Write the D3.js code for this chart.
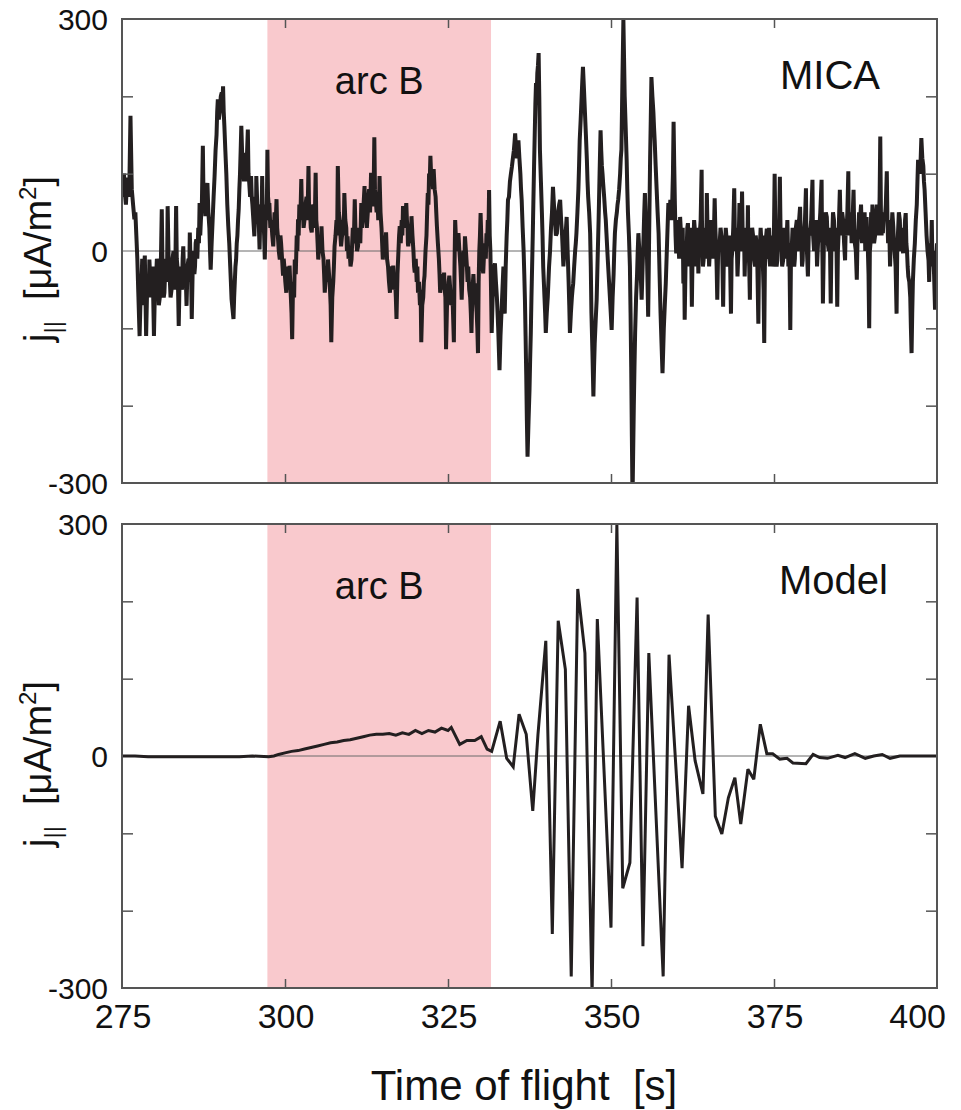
<!DOCTYPE html>
<html><head><meta charset="utf-8">
<script src="https://cdn.jsdelivr.net/npm/d3@7"></script>
<style>body{margin:0;background:#fff}svg{display:block}text{font-family:"Liberation Sans",Arial,sans-serif;fill:#111}</style>
</head><body>
<svg id="chart" width="961" height="1110"></svg>
<script>
// ---- data ----
const xDomain = [275, 400];
const yDomain = [-300, 300];
const xTickLabels = [275, 300, 325, 350, 375, 400];
const xMinorTicks = [300, 325, 350, 375];
const yTickLabels = [-300, 0, 300];
const yMinorTicks = [-200, -100, 100, 200];
const arcB = [297.3, 331.6];
const panelNames = ["MICA", "Model"];

// MICA measured j|| [time s, uA/m2]
const micaSeries = [
[275.0,90],[275.15,70],[275.3,100],[275.45,75],[275.6,60],[275.75,85],[275.9,95],[276.1,70],[276.3,175],[276.5,80],[276.7,60],[276.9,41],[277.05,50],[277.2,20],[277.35,-10],[277.5,-54],[277.7,-110],[277.85,-60],[278.0,-40],[278.1,-10],[278.2,-70],[278.35,-30],[278.5,-6],[278.7,-110],[278.85,-50],[279.0,-30],[279.1,-60],[279.2,-11],[279.35,-40],[279.5,-60],[279.7,-20],[279.9,-110],[280.05,-50],[280.2,-40],[280.35,-10],[280.5,-28],[280.65,-70],[280.8,-60],[280.95,-20],[281.1,54],[281.2,-10],[281.3,-20],[281.4,-60],[281.5,-54],[281.65,-20],[281.8,-10],[281.9,-40],[282.0,58],[282.15,-10],[282.3,-30],[282.45,-60],[282.6,-50],[282.75,-10],[282.9,0],[283.0,-50],[283.1,-40],[283.2,-10],[283.3,58],[283.4,-10],[283.5,-20],[283.6,-50],[283.7,-97],[283.85,-30],[284.0,-20],[284.1,-45],[284.2,-50],[284.3,-10],[284.4,6],[284.55,-40],[284.7,-20],[284.8,-40],[284.9,-71],[285.05,-20],[285.2,-10],[285.3,-40],[285.4,24],[285.5,-10],[285.6,-30],[285.7,-88],[285.85,-20],[286.0,0],[286.1,-30],[286.2,-20],[286.3,10],[286.4,15],[286.55,-10],[286.7,30],[286.8,10],[286.9,62],[287.0,20],[287.1,40],[287.25,60],[287.4,136],[287.5,70],[287.6,50],[287.7,80],[287.8,45],[287.95,70],[288.1,88],[288.25,50],[288.4,30],[288.5,0],[288.6,-24],[288.75,10],[288.9,40],[289.05,70],[289.2,97],[289.35,130],[289.5,150],[289.6,180],[289.7,196],[289.85,170],[290.0,180],[290.15,200],[290.3,205],[290.4,190],[290.5,213],[290.6,180],[290.7,162],[290.85,130],[291.0,100],[291.15,60],[291.3,32],[291.45,10],[291.6,-20],[291.7,-40],[291.8,-62],[291.95,-75],[292.1,-88],[292.2,-60],[292.3,-40],[292.4,-20],[292.5,-11],[292.6,10],[292.7,20],[292.8,40],[292.9,54],[293.0,80],[293.1,100],[293.2,130],[293.3,162],[293.45,120],[293.6,110],[293.7,90],[293.8,127],[293.9,90],[294.0,100],[294.15,120],[294.3,157],[294.4,100],[294.5,90],[294.65,70],[294.8,97],[294.9,70],[295.0,60],[295.15,40],[295.3,19],[295.4,50],[295.5,70],[295.55,40],[295.6,97],[295.75,60],[295.9,50],[296.0,30],[296.1,2],[296.2,40],[296.3,60],[296.4,40],[296.5,97],[296.6,50],[296.7,40],[296.8,20],[296.9,-11],[297.0,30],[297.1,60],[297.2,40],[297.3,131],[297.4,70],[297.5,60],[297.55,40],[297.6,62],[297.75,30],[297.9,40],[298.05,20],[298.2,6],[298.3,30],[298.4,50],[298.55,30],[298.7,67],[298.8,30],[298.9,20],[299.05,0],[299.2,-11],[299.3,20],[299.4,10],[299.55,-10],[299.7,-32],[299.8,-10],[299.9,-20],
[300.05,-40],[300.2,-54],[300.35,-20],[300.5,-30],[300.6,-50],[300.7,-19],[300.8,-40],[300.9,-60],[301.0,-80],[301.1,-114],[301.2,-60],[301.3,-40],[301.4,-60],[301.5,-11],[301.65,-30],[301.8,20],[301.9,0],[302.0,41],[302.1,20],[302.2,60],[302.35,40],[302.5,93],[302.6,50],[302.7,60],[302.85,30],[303.0,41],[303.15,60],[303.3,70],[303.45,40],[303.6,110],[303.7,50],[303.8,60],[303.95,30],[304.1,24],[304.25,50],[304.4,60],[304.55,30],[304.7,101],[304.8,40],[304.9,30],[305.0,10],[305.1,-11],[305.25,10],[305.4,20],[305.5,0],[305.6,32],[305.75,0],[305.9,-10],[306.0,-30],[306.1,-54],[306.25,-30],[306.4,-20],[306.5,-40],[306.6,-11],[306.75,-30],[306.9,-50],[307.0,-70],[307.1,-118],[307.25,-60],[307.4,-40],[307.5,-20],[307.6,6],[307.75,20],[307.9,40],[308.0,20],[308.1,110],[308.25,50],[308.4,40],[308.5,20],[308.6,6],[308.75,20],[308.9,40],[309.0,20],[309.1,75],[309.25,40],[309.4,30],[309.5,0],[309.6,19],[309.75,-10],[309.9,0],[310.05,-20],[310.2,-11],[310.3,10],[310.4,30],[310.55,10],[310.7,67],[310.8,30],[310.9,20],[311.05,0],[311.2,6],[311.3,20],[311.4,30],[311.55,10],[311.7,62],[311.8,30],[311.9,40],[312.05,60],[312.2,84],[312.3,50],[312.4,50],[312.55,30],[312.7,50],[312.8,70],[312.9,80],[313.05,50],[313.2,101],[313.35,60],[313.5,60],[313.6,80],[313.7,147],[313.8,80],[313.9,70],[314.05,50],[314.2,67],[314.3,40],[314.4,50],[314.45,70],[314.5,97],[314.65,50],[314.8,30],[314.9,10],[315.0,-11],[315.15,10],[315.3,20],[315.4,0],[315.5,24],[315.65,-10],[315.8,-20],[315.95,-40],[316.1,-54],[316.2,-30],[316.3,-20],[316.45,-40],[316.6,-19],[316.75,-50],[316.9,-40],[317.0,-60],[317.1,-88],[317.25,-30],[317.4,0],[317.5,20],[317.6,32],[317.75,10],[317.9,40],[318.0,20],[318.1,58],[318.25,40],[318.4,30],[318.5,50],[318.6,62],[318.7,40],[318.8,30],[318.85,10],[318.9,6],[319.05,20],[319.2,30],[319.3,10],[319.4,45],[319.55,20],[319.7,0],[319.8,-20],[319.9,-28],[320.05,-10],[320.2,-40],[320.3,-20],[320.4,-54],[320.55,-40],[320.7,-70],[320.8,-50],[320.9,-118],[321.05,-70],[321.2,-60],[321.3,-40],[321.4,-32],[321.55,0],[321.7,20],[321.8,50],[321.9,75],[322.0,60],[322.1,100],[322.2,90],[322.3,123],[322.45,90],[322.6,100],[322.7,80],[322.8,106],[322.95,80],[323.1,70],[323.2,50],[323.3,32],[323.45,10],[323.6,-10],[323.7,-30],[323.8,-54],[323.95,-40],[324.1,-30],[324.25,-50],[324.4,-28],[324.5,-50],[324.6,-60],[324.65,-90],[324.7,-127],[324.85,-70],[325.0,-60],[325.1,-40],[325.2,-32],[325.35,-50],[325.5,-70],[325.7,-60],[325.9,-118],
[326.0,-20],[326.1,40],[326.25,10],[326.4,0],[326.5,20],[326.6,23],[326.75,0],[326.9,-20],[327.0,-40],[327.1,-63],[327.25,-20],[327.4,0],[327.5,-20],[327.6,19],[327.75,0],[327.9,-20],[328.0,-40],[328.1,-20],[328.25,-50],[328.4,-60],[328.5,-80],[328.6,-106],[328.75,-50],[328.9,-30],[329.0,-50],[329.1,-42],[329.25,-60],[329.4,-80],[329.5,-100],[329.6,-132],[329.7,-40],[329.8,0],[329.9,20],[330.0,49],[330.1,20],[330.2,0],[330.3,-20],[330.4,-29],[330.55,0],[330.7,10],[330.8,-10],[330.9,23],[331.0,10],[331.1,40],[331.2,20],[331.3,79],[331.4,20],[331.5,0],[331.6,-50],[331.7,-106],[331.85,-60],[332.0,-40],[332.1,-20],[332.2,-16],[332.35,-40],[332.5,-60],[332.7,-100],[332.9,-154],[333.05,-110],[333.2,-80],[333.35,-50],[333.5,-20],[333.6,-50],[333.7,-81],[333.85,-20],[334.0,20],[334.1,40],[334.2,66],[334.35,70],[334.5,90],[334.65,100],[334.8,109],[334.95,120],[335.1,130],[335.2,140],[335.3,152],[335.45,130],[335.6,120],[335.7,130],[335.8,143],[335.95,120],[336.1,100],[336.2,80],[336.3,66],[336.45,30],[336.6,0],[336.7,-30],[336.8,-63],[336.9,-110],[337.0,-160],[337.1,-220],[337.2,-266],[337.35,-220],[337.5,-180],[337.6,-140],[337.7,-106],[337.8,-60],[337.9,-20],[338.0,20],[338.1,66],[338.2,110],[338.3,150],[338.4,190],[338.5,217],[338.6,200],[338.7,230],[338.8,240],[338.9,256],[339.0,200],[339.1,131],[339.25,90],[339.4,50],[339.5,20],[339.6,-20],[339.7,-40],[339.8,-60],[339.9,-80],[340.0,-106],[340.15,-80],[340.3,-60],[340.4,-40],[340.5,-20],[340.65,0],[340.8,30],[340.95,50],[341.1,83],[341.25,60],[341.4,40],[341.55,20],[341.7,23],[341.8,40],[341.9,50],[342.05,60],[342.2,66],[342.35,40],[342.5,20],[342.6,0],[342.7,-20],[342.85,0],[343.0,20],[343.1,30],[343.2,44],[343.35,0],[343.5,-40],[343.6,-70],[343.7,-106],[343.85,-80],[344.0,-60],[344.1,-50],[344.2,-42],[344.35,-20],[344.5,0],[344.6,10],[344.7,23],[344.85,50],[345.0,80],[345.1,110],[345.2,143],[345.35,170],[345.5,200],[345.6,220],[345.7,238],[345.85,210],[346.0,180],[346.15,150],[346.3,118],[346.4,90],[346.5,70],[346.65,50],[346.8,23],[346.9,-20],[347.0,-80],[347.15,-130],[347.3,-188],[347.4,-150],[347.5,-120],[347.65,-90],[347.8,-63],[347.95,-10],[348.1,40],[348.25,100],[348.4,156],[348.5,130],[348.6,110],[348.7,100],[348.8,87],[348.95,70],[349.1,50],[349.2,40],[349.3,23],[349.5,-10],[349.7,-40],[349.9,-70],
[350.1,-102],[350.25,-60],[350.4,-30],[350.5,0],[350.6,23],[350.75,40],[350.9,50],[351.0,60],[351.1,66],[351.25,80],[351.4,100],[351.5,120],[351.6,131],[351.75,220],[351.9,299],[352.0,250],[352.1,200],[352.25,160],[352.4,118],[352.5,80],[352.6,50],[352.75,20],[352.9,-20],[353.0,-80],[353.1,-150],[353.2,-240],[353.3,-320],[353.4,-260],[353.5,-200],[353.6,-150],[353.7,-106],[353.85,-60],[354.0,-30],[354.1,0],[354.2,23],[354.35,0],[354.5,-20],[354.6,-40],[354.7,-63],[354.85,-20],[355.0,20],[355.1,50],[355.2,75],[355.35,30],[355.5,0],[355.6,-40],[355.7,-85],[355.85,20],[356.0,120],[356.1,170],[356.2,225],[356.35,200],[356.5,180],[356.6,160],[356.7,143],[356.85,110],[357.0,80],[357.15,50],[357.3,23],[357.45,-30],[357.6,-80],[357.75,-120],[357.9,-158],[358.0,-130],[358.1,-100],[358.25,-70],[358.4,-42],[358.6,10],[358.8,62],[358.95,40],[359.1,66],[359.25,40],[359.4,66],[359.5,100],[359.6,167],[359.7,110],[359.8,60],[359.9,20],[360.0,-3],[360.15,40],[360.3,23],[360.45,-10],[360.6,44],[360.75,20],[360.9,0],[361.0,30],[361.1,-42],[361.2,10],[361.3,-89],[361.45,-10],[361.6,0],[361.7,30],[361.8,36],[361.95,-20],[362.1,0],[362.25,30],[362.4,-72],[362.5,-10],[362.6,0],[362.75,40],[362.9,23],[363.0,-20],[363.1,0],[363.25,30],[363.4,-29],[363.5,10],[363.6,20],[363.75,40],[363.9,105],[363.95,40],[364.0,20],[364.1,-20],[364.2,-12],[364.35,30],[364.5,20],[364.6,-10],[364.7,75],[364.8,30],[364.9,20],[365.05,-20],[365.2,6],[365.35,40],[365.5,30],[365.7,-10],[365.9,68],[366.0,30],[366.1,10],[366.2,-20],[366.3,-63],[366.45,10],[366.6,0],[366.8,30],[367.0,14],[367.1,-20],[367.2,-72],[367.35,20],[367.5,0],[367.6,30],[367.7,19],[367.85,-20],[368.0,-10],[368.2,20],[368.4,-81],[368.5,-10],[368.6,0],[368.75,30],[368.9,81],[369.0,20],[369.1,0],[369.25,30],[369.4,-33],[369.5,-10],[369.6,20],[369.65,40],[369.7,62],[369.8,10],[369.9,0],[370.0,30],[370.1,77],[370.2,20],[370.3,0],[370.4,30],[370.5,-33],[370.65,20],[370.8,10],[370.9,-10],[371.0,59],[371.05,20],[371.1,0],[371.2,-20],[371.3,-63],[371.4,20],[371.5,0],[371.65,30],[371.8,19],[371.95,-10],[372.1,-20],[372.2,20],[372.3,10],[372.45,-20],[372.6,-94],[372.7,-10],[372.8,0],[372.95,30],[373.1,6],[373.2,20],[373.3,-20],[373.4,-50],[373.5,-119],[373.6,-20],[373.7,-10],[373.8,20],[373.9,29],[374.0,-10],[374.1,0],[374.25,30],[374.4,-20],[374.55,10],[374.7,20],[374.8,-20],[374.9,-10],
[375.0,30],[375.1,100],[375.2,30],[375.3,10],[375.4,-20],[375.5,-12],[375.6,30],[375.7,20],[375.8,40],[375.9,96],[376.0,30],[376.1,10],[376.25,-20],[376.4,-12],[376.5,30],[376.6,20],[376.75,-10],[376.9,10],[377.05,40],[377.2,-20],[377.35,10],[377.5,-102],[377.6,-10],[377.7,0],[377.85,30],[378.0,14],[378.1,-20],[378.2,-10],[378.35,30],[378.5,40],[378.6,0],[378.7,10],[378.85,40],[379.0,57],[379.1,20],[379.2,10],[379.3,-20],[379.4,-12],[379.5,30],[379.6,20],[379.75,40],[379.9,81],[379.95,30],[380.0,10],[380.1,-10],[380.2,-33],[380.35,30],[380.5,20],[380.7,40],[380.9,92],[380.95,40],[381.0,20],[381.15,0],[381.3,23],[381.45,40],[381.6,-20],[381.75,10],[381.9,20],[382.1,50],[382.3,92],[382.35,30],[382.4,10],[382.45,-20],[382.5,-68],[382.65,10],[382.8,20],[382.95,50],[383.1,44],[383.25,10],[383.4,0],[383.55,30],[383.7,-68],[383.8,0],[383.9,10],[384.05,50],[384.2,40],[384.3,10],[384.4,0],[384.55,30],[384.7,-72],[384.8,0],[384.9,20],[385.0,50],[385.1,79],[385.2,40],[385.3,20],[385.45,50],[385.6,40],[385.75,10],[385.9,-12],[386.0,30],[386.1,20],[386.25,50],[386.4,103],[386.45,40],[386.5,20],[386.6,50],[386.7,31],[386.8,50],[386.9,10],[387.05,40],[387.2,79],[387.3,30],[387.4,10],[387.55,0],[387.7,-37],[387.8,10],[387.9,20],[388.05,50],[388.2,40],[388.35,60],[388.5,10],[388.65,40],[388.8,23],[388.9,50],[389.0,0],[389.1,30],[389.2,44],[389.3,10],[389.4,0],[389.5,-30],[389.6,-100],[389.7,0],[389.8,10],[389.9,50],[390.0,30],[390.1,60],[390.2,49],[390.35,10],[390.5,20],[390.6,50],[390.7,40],[390.8,60],[390.9,20],[391.0,50],[391.1,30],[391.2,70],[391.3,148],[391.4,50],[391.5,20],[391.6,50],[391.7,23],[391.85,50],[392.0,40],[392.15,60],[392.3,103],[392.4,40],[392.5,10],[392.65,40],[392.8,-20],[392.9,10],[393.0,20],[393.15,50],[393.3,31],[393.4,10],[393.5,0],[393.65,-20],[393.8,-81],[393.9,0],[394.0,20],[394.15,50],[394.3,40],[394.4,10],[394.5,0],[394.65,30],[394.8,-3],[394.9,30],[395.0,20],[395.1,40],[395.2,49],[395.3,10],[395.4,0],[395.5,-20],[395.6,-33],[395.75,-40],[395.9,-60],[396.0,-100],[396.1,-132],[396.2,-80],[396.3,-40],[396.45,-10],[396.6,10],[396.75,40],[396.9,60],[397.0,90],[397.1,118],[397.25,110],[397.4,100],[397.5,120],[397.6,146],[397.75,120],[397.9,110],[398.0,90],[398.1,79],[398.25,50],[398.4,20],[398.55,0],[398.7,-12],[398.8,-40],[398.9,10],[399.05,-20],[399.2,40],[399.3,-20],[399.4,0],[399.55,-30],[399.7,-76],[399.85,-20],[400.0,10]
];

// Model j|| [time s, uA/m2]
const modelSeries = [
[275,0],[277,0],[279,-1],[281,-1],[283,-1],[285,-1],[287,-1],[289,-1],[291,-1],[293,-1],[295,0],[297.5,-1],[298.3,0],[299,2],[300,4],[301,6],[302,7],[303,9],[304,11],[305,13],[306,15],[307,17],[308,18],[309,20],[310,21],[311,23],[312,25],[313,27],[314,28],[315,28],[316,29],[317,27],[318,30],[319,28],[320,33],[321,29],[322,33],[323,31],[324,36],[325,33],[325.5,37],[326.8,15],[327.9,20],[329.1,20],[330.1,25],[331,9],[331.7,6],[333,45],[334,-3],[335,-14],[335.9,54],[337,28],[338,-71],[338.8,28],[340,149],[341,-230],[341.9,175],[343,112],[343.9,-285],[344.9,216],[346,133],[347.1,-310],[347.9,177],[350,-222],[350.9,300],[351.8,-171],[352.9,-138],[354,205],[354.9,-246],[355.8,133],[358,-285],[358.9,131],[360.9,-145],[361.9,65],[362.9,-6],[364.1,-49],[364.9,183],[366,-78],[367,-101],[368,-54],[369,-28],[369.9,-88],[371,-17],[371.9,-30],[372.9,41],[373.9,3],[374.8,3],[375.9,-4],[377,-3],[377.9,-9],[379.9,-10],[381,2],[382,-2],[383.2,-3],[384.8,1],[385.9,-2],[387.4,3],[389,-3],[390.3,0],[391.6,2],[392.8,-3],[394.3,0],[396.4,0],[398,0],[400,0]
];

// ---- drawing ----
const svg = d3.select("#chart");
const left = 122, right = 937;
const panels = [
  {top: 19, bottom: 483, data: micaSeries, name: panelNames[0], width: 4.0, nameX: 780, showX: false},
  {top: 524, bottom: 988, data: modelSeries, name: panelNames[1], width: 3.0, nameX: 779, showX: true}
];
const x = d3.scaleLinear().domain(xDomain).range([left, right]);
const frameColor = "#555";

panels.forEach((p, i) => {
  const y = d3.scaleLinear().domain(yDomain).range([p.bottom, p.top]);
  const g = svg.append("g");
  const clipId = "clip" + i;
  svg.append("defs").append("clipPath").attr("id", clipId)
    .append("rect").attr("x", left).attr("y", p.top).attr("width", right - left).attr("height", p.bottom - p.top);

  // arc B shading
  g.append("rect").attr("x", x(arcB[0])).attr("y", p.top)
    .attr("width", x(arcB[1]) - x(arcB[0])).attr("height", p.bottom - p.top)
    .attr("fill", "#f9c9cd");

  // zero line
  g.append("line").attr("x1", left).attr("x2", right).attr("y1", y(0)).attr("y2", y(0))
    .attr("stroke", "#6a6a6a").attr("stroke-width", 1);

  // data line
  g.append("path").datum(p.data)
    .attr("clip-path", `url(#${clipId})`)
    .attr("fill", "none").attr("stroke", "#231f20").attr("stroke-width", p.width)
    .attr("stroke-linejoin", "miter").attr("stroke-miterlimit", 3)
    .attr("d", d3.line().x(d => x(d[0])).y(d => y(d[1])));

  // axes (inside ticks)
  const axStyle = sel => { sel.select(".domain").remove(); sel.selectAll(".tick line").attr("stroke", frameColor).attr("stroke-width", 1.5); sel.selectAll("text").remove(); };
  g.append("g").attr("transform", `translate(${left},0)`)
    .call(d3.axisLeft(y).tickValues(yMinorTicks).tickSize(-11)).call(axStyle);
  g.append("g").attr("transform", `translate(${right},0)`)
    .call(d3.axisRight(y).tickValues(yMinorTicks).tickSize(-11)).call(axStyle);
  g.append("g").attr("transform", `translate(0,${p.top})`)
    .call(d3.axisTop(x).tickValues(xMinorTicks).tickSize(-9)).call(axStyle);
  g.append("g").attr("transform", `translate(0,${p.bottom})`)
    .call(d3.axisBottom(x).tickValues(xMinorTicks).tickSize(-9)).call(axStyle);

  // frame
  g.append("rect").attr("x", left).attr("y", p.top).attr("width", right - left).attr("height", p.bottom - p.top)
    .attr("fill", "none").attr("stroke", frameColor).attr("stroke-width", 2);

  // y tick labels
  g.selectAll(".ylab").data(yTickLabels).enter().append("text")
    .attr("x", 108).attr("y", d => y(d) + 11).attr("text-anchor", "end")
    .attr("font-size", 30).text(d => d);

  // x tick labels
  if (p.showX) {
    g.selectAll(".xlab").data(xTickLabels).enter().append("text")
      .attr("x", d => d === xDomain[1] ? x(d) + 9 : x(d) + 1)
      .attr("y", p.bottom + 40)
      .attr("text-anchor", d => d === xDomain[1] ? "end" : "middle")
      .attr("font-size", 34).text(d => d);
  }

  // arc B label
  g.append("text").attr("x", x((arcB[0] + arcB[1]) / 2)).attr("y", p.top + 75)
    .attr("text-anchor", "middle").attr("font-size", 38).text("arc B");

  // panel name
  g.append("text").attr("x", p.nameX).attr("y", p.top + 70).attr("font-size", 40).text(p.name);

  // y axis label
  const cy = (p.top + p.bottom) / 2 + 8;
  const t = g.append("text").attr("transform", `translate(51,${cy}) rotate(-90)`)
    .attr("text-anchor", "middle").attr("font-size", 38);
  t.append("tspan").text("j");
  t.append("tspan").attr("font-size", 24).attr("dy", 10).text("||");
  t.append("tspan").attr("dy", -10).text("\u00A0\u00A0[μA/m");
  t.append("tspan").attr("font-size", 24).attr("dy", -15).text("2");
  t.append("tspan").attr("dy", 15).text("]");
});

// x axis title
svg.append("text").attr("x", 524).attr("y", 1100).attr("text-anchor", "middle")
  .attr("font-size", 42).text("Time of flight\u00A0\u00A0[s]");
</script>
</body></html>
